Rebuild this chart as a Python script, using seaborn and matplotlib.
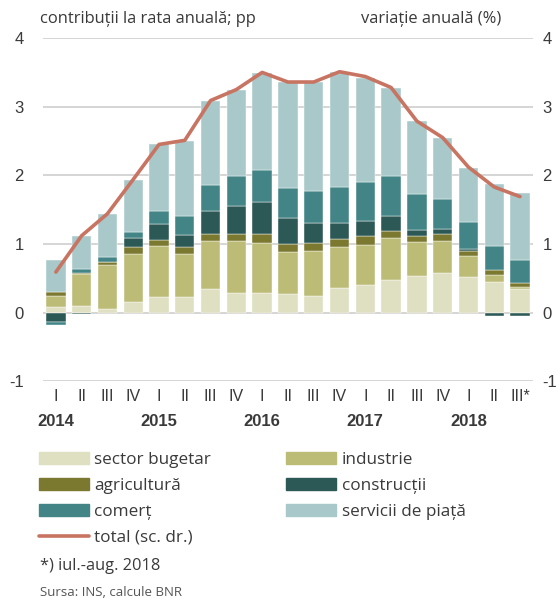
import numpy as np
import pandas as pd
import matplotlib
matplotlib.use("Agg")
import matplotlib.pyplot as plt
from matplotlib.patches import Patch
from matplotlib.lines import Line2D
import seaborn as sns

# ---- date (contribuții la rata anuală, pp) ----
trimestre = ["I", "II", "III", "IV", "I", "II", "III", "IV", "I", "II", "III", "IV",
             "I", "II", "III", "IV", "I", "II", "III*"]
ani = ["2014", "2015", "2016", "2017", "2018"]

sector_bugetar = [0.08, 0.09, 0.05, 0.16, 0.23, 0.23, 0.35, 0.28, 0.28, 0.27, 0.24, 0.36,
                  0.40, 0.47, 0.53, 0.57, 0.52, 0.44, 0.35]
industrie = [0.16, 0.47, 0.64, 0.70, 0.74, 0.62, 0.69, 0.77, 0.74, 0.61, 0.65, 0.60,
             0.58, 0.62, 0.50, 0.48, 0.31, 0.11, 0.02]
agricultura = [0.06, 0.02, 0.04, 0.09, 0.09, 0.10, 0.10, 0.10, 0.12, 0.12, 0.12, 0.11,
               0.14, 0.10, 0.08, 0.09, 0.07, 0.07, 0.06]
constructii = [-0.14, -0.02, 0.01, 0.13, 0.23, 0.18, 0.34, 0.41, 0.47, 0.38, 0.30, 0.24,
               0.22, 0.21, 0.10, 0.08, 0.02, -0.05, -0.05]
comert = [-0.04, 0.05, 0.07, 0.09, 0.19, 0.27, 0.38, 0.43, 0.47, 0.44, 0.46, 0.52,
          0.56, 0.59, 0.52, 0.44, 0.40, 0.35, 0.33]
servicii = [0.47, 0.49, 0.63, 0.76, 0.97, 1.10, 1.23, 1.26, 1.41, 1.54, 1.59, 1.67,
            1.52, 1.28, 1.06, 0.88, 0.79, 0.90, 0.98]
total = [0.59, 1.12, 1.44, 1.94, 2.45, 2.51, 3.09, 3.25, 3.50, 3.36, 3.36, 3.51,
         3.44, 3.28, 2.79, 2.55, 2.12, 1.83, 1.69]

serii = [
    ("sector bugetar", sector_bugetar, "#dfdfc1"),
    ("industrie", industrie, "#bcbc77"),
    ("agricultură", agricultura, "#7b782f"),
    ("construcții", constructii, "#2c5956"),
    ("comerț", comert, "#438586"),
    ("servicii de piață", servicii, "#a8c8c9"),
]
culoare_total = "#c87462"

sns.set_theme(style="white")
plt.rcParams["font.family"] = ["Open Sans", "DejaVu Sans"]
plt.rcParams["axes.unicode_minus"] = False
font_ax = ["Liberation Sans Narrow", "Liberation Sans", "DejaVu Sans"]
text_col = "#3a3a3a"

fig = plt.figure(figsize=(5.58, 6.05), dpi=100)
ax = fig.add_axes([0.077, 0.370, 0.878, 0.567])

x = np.arange(len(trimestre))
pos = np.zeros(len(x))
neg = np.zeros(len(x))
for nume, vals, col in serii:
    v = np.array(vals)
    baza = np.where(v >= 0, pos, neg)
    ax.bar(x, v, bottom=baza, width=0.75, color=col, edgecolor="white",
           linewidth=0.3, zorder=3)
    pos = np.where(v >= 0, pos + v, pos)
    neg = np.where(v < 0, neg + v, neg)

df_total = pd.DataFrame({"x": x, "total": total})
sns.lineplot(data=df_total, x="x", y="total", ax=ax, color=culoare_total,
             linewidth=2.6, zorder=4)

ax.set_xlim(-0.5, len(x) - 0.5)
ax.set_ylim(-1, 4)
ax.set_yticks(range(-1, 5))
ax.yaxis.grid(True, color="#d2d2d2", linewidth=1.3, zorder=0)
ax.xaxis.grid(False)
for s in ax.spines.values():
    s.set_visible(False)
ax.set_xlabel("")
ax.set_ylabel("")
ax.set_xticks(x)
ax.set_xticklabels(trimestre, family=font_ax, fontsize=11.5, color=text_col)
ax.tick_params(axis="x", length=0, pad=6)
ax.tick_params(axis="y", length=0, pad=14, labelsize=12, labelcolor=text_col)
for lab in ax.get_yticklabels():
    lab.set_family(font_ax)

ax2 = ax.twinx()
ax2.set_ylim(-1, 4)
ax2.set_yticks(range(-1, 5))
ax2.tick_params(axis="y", length=0, pad=7, labelsize=12, labelcolor=text_col)
for lab in ax2.get_yticklabels():
    lab.set_family(font_ax)
for s in ax2.spines.values():
    s.set_visible(False)
ax2.grid(False)

# ani sub trimestrul I
for i, an in enumerate(ani):
    ax.text(i * 4, -1.59, an, ha="center", va="center", fontsize=12,
            family=font_ax, color=text_col, fontweight="bold")

fig.text(0.072, 0.968, "contribuții la rata anuală; pp", fontsize=11.9,
         color=text_col, va="center")
fig.text(0.898, 0.968, "variație anuală (%)", fontsize=11.9,
         color=text_col, va="center", ha="right")

handles = [Patch(color=c, label=n) for n, _, c in serii]
linie = Line2D([], [], color=culoare_total, linewidth=2.6, label="total (sc. dr.)")
ordine = [handles[0], handles[2], handles[4], linie, handles[1], handles[3], handles[5]]
fig.legend(handles=ordine, loc="upper left", bbox_to_anchor=(0.058, 0.264),
           ncol=2, frameon=False, fontsize=12.3, handlelength=2.9,
           handleheight=0.65, handletextpad=0.33, columnspacing=4.4,
           labelspacing=0.58, labelcolor=text_col, borderaxespad=0)

fig.text(0.072, 0.065, "*) iul.-aug. 2018", fontsize=11.8, color=text_col, va="center")
fig.text(0.072, 0.021, "Sursa: INS, calcule BNR", fontsize=9.5, color="#555555", va="center")

fig.savefig("out.png", dpi=100)
